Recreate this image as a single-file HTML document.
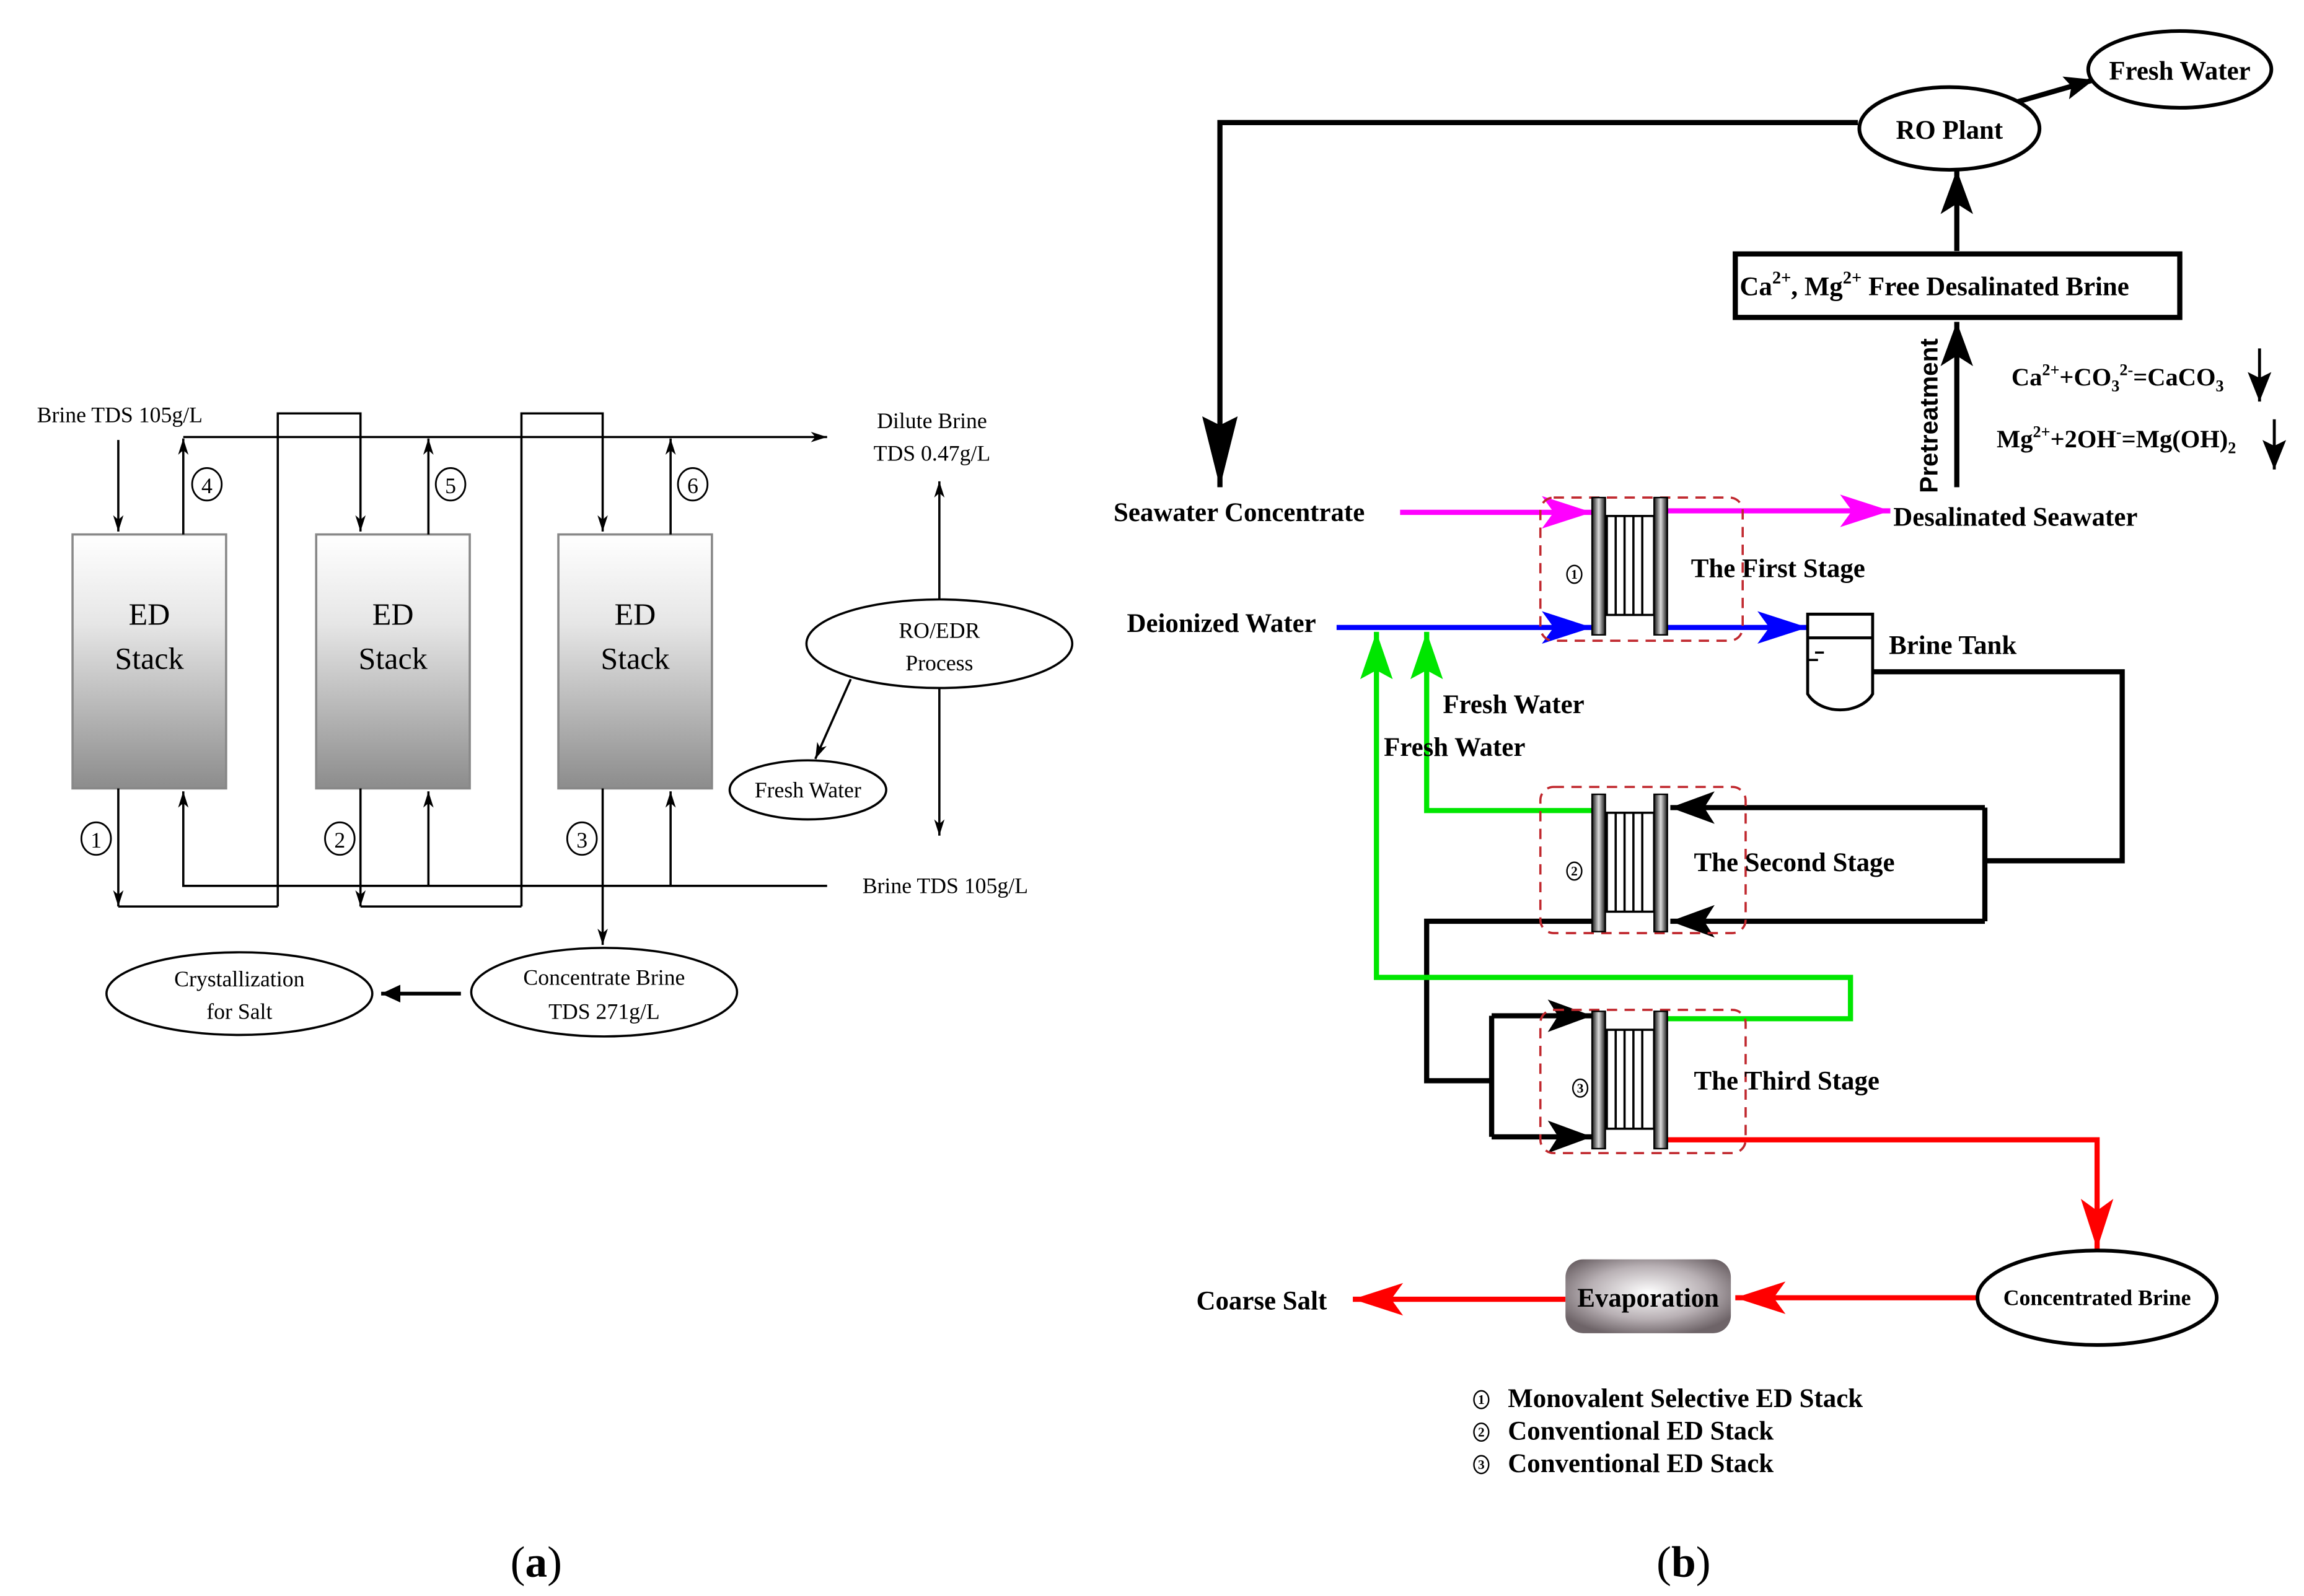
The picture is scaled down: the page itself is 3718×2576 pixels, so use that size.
<!DOCTYPE html>
<html><head><meta charset="utf-8"><style>
html,body{margin:0;padding:0;background:#fff}
svg{display:block}
text{font-family:"Liberation Serif",serif}
.b{font-weight:bold}
</style></head><body>
<svg width="3718" height="2576" viewBox="0 0 1560 1081" xmlns="http://www.w3.org/2000/svg">
<defs>
<linearGradient id="stk" x1="0" y1="0" x2="0" y2="1"><stop offset="0" stop-color="#fff"/><stop offset="0.35" stop-color="#e6e6e6"/><stop offset="1" stop-color="#8c8c8c"/></linearGradient>
<linearGradient id="pl" x1="0" y1="0" x2="1" y2="0"><stop offset="0" stop-color="#111"/><stop offset="0.5" stop-color="#ddd"/><stop offset="1" stop-color="#111"/></linearGradient>
<radialGradient id="ev" cx="0.5" cy="0.45" r="0.6"><stop offset="0" stop-color="#fff"/><stop offset="0.6" stop-color="#b8b0b4"/><stop offset="1" stop-color="#6e6468"/></radialGradient>
<marker id="ta" markerUnits="userSpaceOnUse" markerWidth="12" markerHeight="8" refX="11" refY="4" orient="auto"><path d="M0,0.5 L11,4 L0,7.5 L3,4 z" fill="#000"/></marker>
<marker id="ta2" markerUnits="userSpaceOnUse" markerWidth="14" markerHeight="12" refX="13" refY="6" orient="auto"><path d="M0,0 L13,6 L0,12 z" fill="#000"/></marker>
<marker id="bk" markerUnits="userSpaceOnUse" markerWidth="32" markerHeight="24" refX="30" refY="12" orient="auto"><path d="M0,1 L30,12 L0,23 L7,12 z" fill="#000"/></marker>
<marker id="bkd" markerUnits="userSpaceOnUse" markerWidth="50" markerHeight="28" refX="48" refY="14" orient="auto"><path d="M0,2 L48,14 L0,26 L6,14 z" fill="#000"/></marker>
<marker id="bks" markerUnits="userSpaceOnUse" markerWidth="22" markerHeight="16" refX="20" refY="8" orient="auto"><path d="M0,0 L20,8 L0,16 L4,8 z" fill="#000"/></marker>
<marker id="mg" markerUnits="userSpaceOnUse" markerWidth="36" markerHeight="24" refX="34" refY="12" orient="auto"><path d="M0,1 L34,12 L0,23 L8,12 z" fill="#f0f"/></marker>
<marker id="bl" markerUnits="userSpaceOnUse" markerWidth="36" markerHeight="24" refX="34" refY="12" orient="auto"><path d="M0,1 L34,12 L0,23 L8,12 z" fill="#0000ff"/></marker>
<marker id="gr" markerUnits="userSpaceOnUse" markerWidth="34" markerHeight="22" refX="32" refY="11" orient="auto"><path d="M0,0 L32,11 L0,22 L6,11 z" fill="#00e600"/></marker>
<marker id="rd" markerUnits="userSpaceOnUse" markerWidth="36" markerHeight="24" refX="34" refY="12" orient="auto"><path d="M0,1 L34,12 L0,23 L8,12 z" fill="#f00"/></marker>
<g id="stage">
<rect x="1088" y="349.5" width="32" height="67" fill="#fff" stroke="#000" stroke-width="1.5"/>
<line x1="1094" y1="350" x2="1094" y2="416" stroke="#000" stroke-width="1.5"/>
<line x1="1100" y1="350" x2="1100" y2="416" stroke="#000" stroke-width="1.5"/>
<line x1="1106" y1="350" x2="1106" y2="416" stroke="#000" stroke-width="1.5"/>
<line x1="1112" y1="350" x2="1112" y2="416" stroke="#000" stroke-width="1.5"/>
<rect x="1078" y="337" width="9" height="93" fill="url(#pl)" stroke="#000" stroke-width="1"/>
<rect x="1120" y="337" width="9" height="93" fill="url(#pl)" stroke="#000" stroke-width="1"/>
</g>
</defs>

<!-- ========== (a) ========== -->
<g fill="none" stroke="#000" stroke-width="1.5">
<rect x="49" y="362" width="104" height="172" fill="url(#stk)" stroke="#888"/>
<rect x="214" y="362" width="104" height="172" fill="url(#stk)" stroke="#888"/>
<rect x="378" y="362" width="104" height="172" fill="url(#stk)" stroke="#888"/>
<line x1="124" y1="296" x2="560" y2="296" marker-end="url(#ta)"/>
<line x1="80" y1="298" x2="80" y2="360" marker-end="url(#ta)"/>
<line x1="124" y1="362" x2="124" y2="297" marker-end="url(#ta)"/>
<line x1="290" y1="362" x2="290" y2="297" marker-end="url(#ta)"/>
<line x1="454" y1="362" x2="454" y2="297" marker-end="url(#ta)"/>
<polyline points="188,614 188,280 244,280 244,360" marker-end="url(#ta)"/>
<polyline points="353,614 353,280 408,280 408,360" marker-end="url(#ta)"/>
<line x1="80" y1="534" x2="80" y2="614" marker-end="url(#ta)"/>
<line x1="80" y1="614" x2="188" y2="614"/>
<line x1="244" y1="534" x2="244" y2="614" marker-end="url(#ta)"/>
<line x1="244" y1="614" x2="353" y2="614"/>
<line x1="408" y1="534" x2="408" y2="640" marker-end="url(#ta)"/>
<polyline points="560,600 124,600 124,536" marker-end="url(#ta)"/>
<line x1="290" y1="600" x2="290" y2="536" marker-end="url(#ta)"/>
<line x1="454" y1="600" x2="454" y2="536" marker-end="url(#ta)"/>
<line x1="636" y1="406" x2="636" y2="326" marker-end="url(#ta)"/>
<line x1="636" y1="466" x2="636" y2="566" marker-end="url(#ta)"/>
<line x1="576" y1="460" x2="552" y2="514" marker-end="url(#ta)"/>
<line x1="312" y1="673" x2="258" y2="673" stroke-width="2.5" marker-end="url(#ta2)"/>
<ellipse cx="636" cy="436" rx="90" ry="30"/>
<ellipse cx="547" cy="535" rx="53" ry="20"/>
<ellipse cx="409" cy="672" rx="90" ry="30"/>
<ellipse cx="162" cy="673" rx="90" ry="28"/>
<g stroke-width="1.2" fill="#fff">
<ellipse cx="140" cy="328" rx="10" ry="11"/><ellipse cx="305" cy="328" rx="10" ry="11"/><ellipse cx="469" cy="328" rx="10" ry="11"/>
<ellipse cx="65" cy="568" rx="10" ry="11"/><ellipse cx="230" cy="568" rx="10" ry="11"/><ellipse cx="394" cy="568" rx="10" ry="11"/>
</g>
</g>
<g font-size="15" text-anchor="middle">
<text x="140" y="334">4</text><text x="305" y="334">5</text><text x="469" y="334">6</text>
<text x="65" y="574">1</text><text x="230" y="574">2</text><text x="394" y="574">3</text>
<text x="81" y="286">Brine TDS 105g/L</text>
<text x="631" y="290">Dilute Brine</text>
<text x="631" y="312">TDS 0.47g/L</text>
<text x="640" y="605">Brine TDS 105g/L</text>
<text x="636" y="432">RO/EDR</text>
<text x="636" y="454">Process</text>
<text x="547" y="540">Fresh Water</text>
<text x="409" y="667">Concentrate Brine</text>
<text x="409" y="690">TDS 271g/L</text>
<text x="162" y="668">Crystallization</text>
<text x="162" y="690">for Salt</text>
</g>
<g font-size="21" text-anchor="middle">
<text x="101" y="423">ED</text><text x="101" y="453">Stack</text>
<text x="266" y="423">ED</text><text x="266" y="453">Stack</text>
<text x="430" y="423">ED</text><text x="430" y="453">Stack</text>
</g>
<text x="363" y="1068" font-size="30" text-anchor="middle">(<tspan font-weight="bold">a</tspan>)</text>

<!-- ========== (b) ========== -->
<g fill="none" stroke-width="3.5">
<polyline points="1258,83 826,83 826,330" stroke="#000" marker-end="url(#bkd)"/>
<line x1="1366" y1="69" x2="1418" y2="54" stroke="#000" marker-end="url(#bks)"/>
<line x1="1325" y1="170" x2="1325" y2="115" stroke="#000" marker-end="url(#bk)"/>
<line x1="1325" y1="330" x2="1325" y2="218" stroke="#000" marker-end="url(#bk)"/>
<line x1="1530" y1="236" x2="1530" y2="272" stroke="#000" stroke-width="2" marker-end="url(#bks)"/>
<line x1="1540" y1="284" x2="1540" y2="318" stroke="#000" stroke-width="2" marker-end="url(#bks)"/>
<rect x="1175" y="172" width="301" height="43" stroke="#000" stroke-width="3.5" fill="#fff"/>
<ellipse cx="1320" cy="87" rx="61" ry="28" stroke="#000" stroke-width="2.5" fill="#fff"/>
<ellipse cx="1476" cy="47" rx="62" ry="26" stroke="#000" stroke-width="2.5" fill="#fff"/>

<line x1="948" y1="347" x2="1078" y2="347" stroke="#f0f" marker-end="url(#mg)"/>
<line x1="1129" y1="346" x2="1280" y2="346" stroke="#f0f" marker-end="url(#mg)"/>
<line x1="905" y1="425" x2="1078" y2="425" stroke="#0000ff" marker-end="url(#bl)"/>
<line x1="1129" y1="425" x2="1224" y2="425" stroke="#0000ff" marker-end="url(#bl)"/>

<polyline points="1268,455 1437,455 1437,583 1344,583" stroke="#000"/>
<polyline points="1344,547 1344,624" stroke="#000"/>
<line x1="1344" y1="547" x2="1131" y2="547" stroke="#000" marker-end="url(#bk)"/>
<line x1="1344" y1="624" x2="1131" y2="624" stroke="#000" marker-end="url(#bk)"/>
<polyline points="1078,549 966,549 966,428" stroke="#00e600" marker-end="url(#gr)"/>
<polyline points="1078,624 966,624 966,732 1010,732" stroke="#000"/>
<polyline points="1010,688 1010,770" stroke="#000"/>
<line x1="1010" y1="688" x2="1078" y2="688" stroke="#000" marker-end="url(#bk)"/>
<line x1="1010" y1="770" x2="1078" y2="770" stroke="#000" marker-end="url(#bk)"/>
<polyline points="1129,690 1253,690 1253,662 932,662 932,428" stroke="#00e600" marker-end="url(#gr)"/>
<polyline points="1129,772 1420,772 1420,846" stroke="#f00" marker-end="url(#rd)"/>
<line x1="1340" y1="879" x2="1175" y2="879" stroke="#f00" marker-end="url(#rd)"/>
<line x1="1060" y1="880" x2="916" y2="880" stroke="#f00" marker-end="url(#rd)"/>
<ellipse cx="1420" cy="879" rx="81" ry="32" stroke="#000" stroke-width="2.5" fill="#fff"/>
<rect x="1060" y="853" width="112" height="50" rx="12" fill="url(#ev)" stroke="none"/>
<path d="M1224,416 L1268,416 L1268,470 A24,18 0 0 1 1224,470 Z" stroke="#000" stroke-width="2" fill="#fff"/>
<line x1="1224" y1="432" x2="1268" y2="432" stroke="#000" stroke-width="2"/>
<line x1="1229" y1="442" x2="1235" y2="442" stroke="#000" stroke-width="1.5"/>
<line x1="1224" y1="447" x2="1231" y2="447" stroke="#000" stroke-width="1.5"/>
<g stroke="#c0272d" stroke-width="1.5" stroke-dasharray="7,5">
<rect x="1043" y="337" width="137" height="97" rx="9"/>
<rect x="1043" y="533" width="139" height="99" rx="9"/>
<rect x="1043" y="684" width="139" height="97" rx="9"/>
</g>
</g>
<use href="#stage"/>
<use href="#stage" transform="translate(0,201)"/>
<use href="#stage" transform="translate(0,348)"/>

<g font-size="18" font-weight="bold">
<text x="754" y="353">Seawater Concentrate</text>
<text x="1282" y="356">Desalinated Seawater</text>
<text x="763" y="428">Deionized Water</text>
<text x="1145" y="391">The First Stage</text>
<text x="1147" y="590">The Second Stage</text>
<text x="1147" y="738">The Third Stage</text>
<text x="1279" y="443">Brine Tank</text>
<text x="977" y="483">Fresh Water</text>
<text x="937" y="512">Fresh Water</text>
<text x="1320" y="94" text-anchor="middle">RO Plant</text>
<text x="1476" y="54" text-anchor="middle">Fresh Water</text>
<text x="1178" y="200">Ca<tspan font-size="12" dy="-8">2+</tspan><tspan dy="8">, Mg</tspan><tspan font-size="12" dy="-8">2+</tspan><tspan dy="8"> Free Desalinated Brine</tspan></text>
<text x="810" y="887">Coarse Salt</text>
<text x="1116" y="885" text-anchor="middle">Evaporation</text>
<text x="1021" y="953">Monovalent Selective ED Stack</text>
<text x="1021" y="975">Conventional ED Stack</text>
<text x="1021" y="997">Conventional ED Stack</text>
</g>
<text x="1420" y="884" font-size="15" font-weight="bold" text-anchor="middle">Concentrated Brine</text>
<text x="1312" y="334" font-size="17" font-weight="bold" transform="rotate(-90 1312 334)" style="font-family:'Liberation Sans',sans-serif">Pretreatment</text>
<g font-size="17" font-weight="bold">
<text x="1362" y="261">Ca<tspan font-size="11" dy="-7">2+</tspan><tspan dy="7">+CO</tspan><tspan font-size="11" dy="4">3</tspan><tspan font-size="11" dy="-11">2-</tspan><tspan dy="7">=CaCO</tspan><tspan font-size="11" dy="4">3</tspan></text>
<text x="1352" y="303">Mg<tspan font-size="11" dy="-7">2+</tspan><tspan dy="7">+2OH</tspan><tspan font-size="11" dy="-7">-</tspan><tspan dy="7">=Mg(OH)</tspan><tspan font-size="11" dy="4">2</tspan></text>
</g>
<g font-size="10" text-anchor="middle" fill="none" stroke="#000" stroke-width="1">
<ellipse cx="1066" cy="389" rx="5" ry="6"/><ellipse cx="1066" cy="590" rx="5" ry="6"/><ellipse cx="1070" cy="737" rx="5" ry="6"/>
<ellipse cx="1003" cy="948" rx="5" ry="6"/><ellipse cx="1003" cy="970" rx="5" ry="6"/><ellipse cx="1003" cy="992" rx="5" ry="6"/>
</g>
<g font-size="9" text-anchor="middle" font-weight="bold">
<text x="1066" y="392">1</text><text x="1066" y="593">2</text><text x="1070" y="740">3</text>
<text x="1003" y="951">1</text><text x="1003" y="973">2</text><text x="1003" y="995">3</text>
</g>
<text x="1140" y="1068" font-size="30" text-anchor="middle">(<tspan font-weight="bold">b</tspan>)</text>
</svg>
</body></html>
